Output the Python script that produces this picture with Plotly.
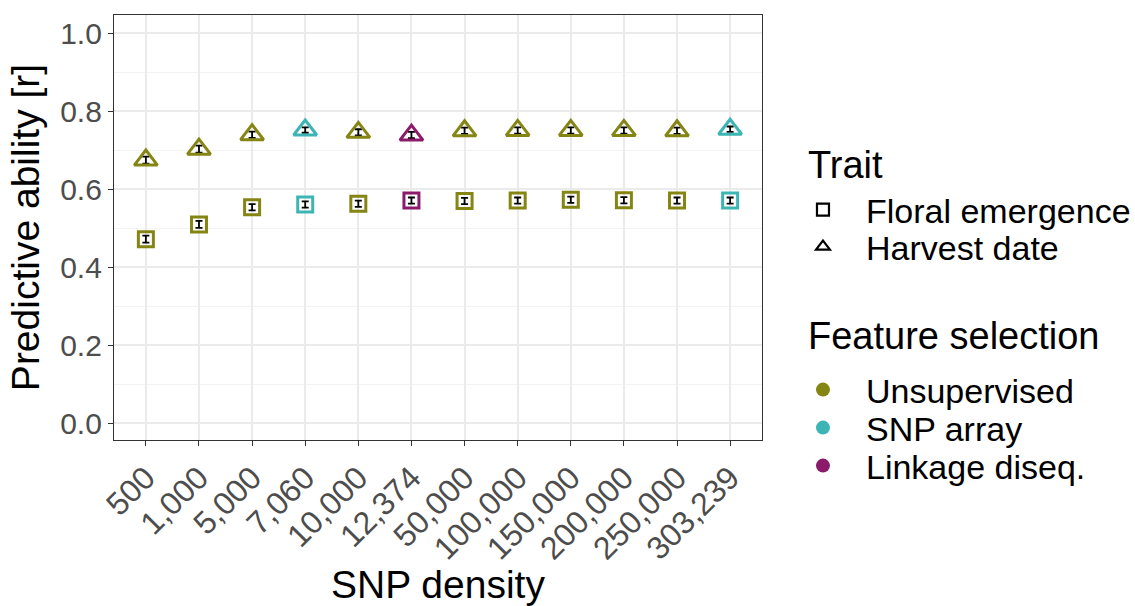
import plotly.graph_objects as go

categories = ["500", "1,000", "5,000", "7,060", "10,000", "12,374", "50,000",
              "100,000", "150,000", "200,000", "250,000", "303,239"]
methods = ["Unsupervised", "Unsupervised", "Unsupervised", "SNP array", "Unsupervised",
           "Linkage diseq.", "Unsupervised", "Unsupervised", "Unsupervised",
           "Unsupervised", "Unsupervised", "SNP array"]
harvest = [0.675, 0.703, 0.740, 0.752, 0.746, 0.739, 0.750, 0.751, 0.751, 0.751, 0.750, 0.754]
harvest_err = [0.009, 0.009, 0.008, 0.007, 0.008, 0.008, 0.008, 0.008, 0.008, 0.008, 0.008, 0.007]
floral = [0.472, 0.510, 0.554, 0.561, 0.563, 0.571, 0.570, 0.571, 0.573, 0.572, 0.571, 0.571]
floral_err = [0.009, 0.009, 0.008, 0.008, 0.008, 0.008, 0.008, 0.008, 0.008, 0.008, 0.008, 0.008]

trait_names = ["Floral emergence", "Harvest date"]
trait_symbols = ["square-open", "triangle-up-open"]
method_names = ["Unsupervised", "SNP array", "Linkage diseq."]
method_colors = {"Unsupervised": "#858514", "SNP array": "#3DB5B5", "Linkage diseq.": "#8C1A6A"}
FONT = "Liberation Sans, Arial, sans-serif"

fig = go.Figure()
cols = [method_colors[m] for m in methods]

fig.add_trace(go.Scatter(
    x=categories, y=floral, mode="markers", showlegend=False,
    marker=dict(symbol="square-open", size=15, color=cols, line=dict(width=3, color=cols)),
    error_y=dict(type="data", array=floral_err, color="black", thickness=1.8, width=3.5),
))
fig.add_trace(go.Scatter(
    x=categories, y=harvest, mode="markers", showlegend=False,
    marker=dict(symbol="triangle-up-open", size=20, color=cols, line=dict(width=3, color=cols)),
    error_y=dict(type="data", array=harvest_err, color="black", thickness=1.8, width=3.5),
))

# legend entries, one small legend per entry for exact spacing (container coordinates)
item_y = [0.6535, 0.5924, 0.3564, 0.2937, 0.2310]
legend_ids = ["legend", "legend2", "legend3", "legend4", "legend5"]
entries = []
for name, sym in zip(trait_names, trait_symbols):
    entries.append((name, dict(symbol=sym, size=12, color="black", line=dict(width=2.2, color="black"))))
for m in method_names:
    entries.append((m, dict(symbol="circle", size=14, color=method_colors[m])))

legend_layout = {}
for (name, mk), lid, yy in zip(entries, legend_ids, item_y):
    fig.add_trace(go.Scatter(x=[None], y=[None], mode="markers", name=name,
                             legend=lid, marker=mk))
    legend_layout[lid] = dict(
        font=dict(size=34, family=FONT, color="black"),
        xref="container", yref="container",
        x=0.6872, xanchor="left", y=yy, yanchor="middle",
        bgcolor="rgba(0,0,0,0)", itemwidth=76, itemsizing="trace",
    )

fig.update_layout(
    width=1135, height=606,
    margin=dict(l=114, r=373, t=15, b=166),
    paper_bgcolor="white", plot_bgcolor="white",
    font=dict(family=FONT, color="black"),
    xaxis=dict(
        type="category", categoryorder="array", categoryarray=categories,
        range=[-0.6, 11.6], tickangle=-45, automargin=False,
        tickfont=dict(size=32, color="#4D4D4D"),
        title=dict(text="SNP density", font=dict(size=39, color="black"), standoff=12),
        showgrid=True, gridcolor="#EBEBEB", gridwidth=1.5,
        ticks="outside", ticklen=5, tickcolor="#333333", tickwidth=1.2,
        showline=True, linecolor="#333333", linewidth=1.2, mirror=True, zeroline=False,
    ),
    yaxis=dict(
        range=[-0.043, 1.047], tickvals=[0, 0.2, 0.4, 0.6, 0.8, 1.0], automargin=False,
        ticktext=["0.0", "0.2", "0.4", "0.6", "0.8", "1.0"],
        tickfont=dict(size=30, color="#4D4D4D"),
        title=dict(text="Predictive ability [r]", font=dict(size=39, color="black"), standoff=8),
        showgrid=True, gridcolor="#EBEBEB", gridwidth=1.5,
        minor=dict(tickvals=[0.1, 0.3, 0.5, 0.7, 0.9], showgrid=True, gridcolor="#F3F3F3", gridwidth=1, ticks=""),
        ticks="outside", ticklen=5, tickcolor="#333333", tickwidth=1.2,
        showline=True, linecolor="#333333", linewidth=1.2, mirror=True, zeroline=False,
    ),
    annotations=[
        dict(text="Trait", xref="paper", yref="paper", x=1.068, y=0.647,
             xanchor="left", yanchor="middle", showarrow=False, font=dict(size=38, color="black")),
        dict(text="Feature selection", xref="paper", yref="paper", x=1.068, y=0.245,
             xanchor="left", yanchor="middle", showarrow=False, font=dict(size=38, color="black")),
    ],
    **legend_layout,
)

fig.write_html("out.html")
